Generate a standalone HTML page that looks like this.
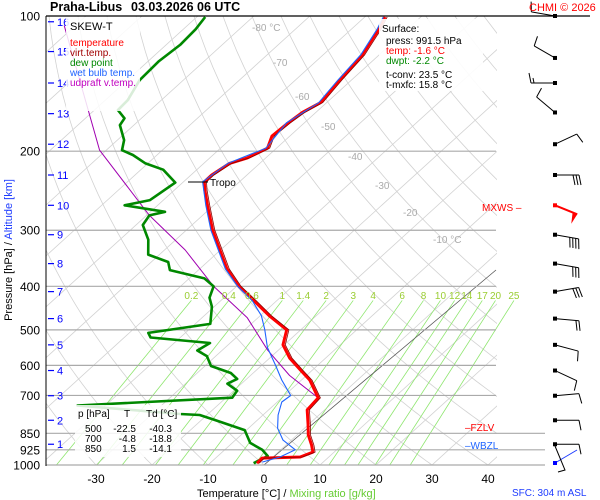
<!DOCTYPE html>
<html><head><meta charset="utf-8">
<style>
html,body{margin:0;padding:0;background:#fff;}
svg{display:block;font-family:"Liberation Sans",sans-serif;}
</style></head>
<body>
<svg id="chart" width="600" height="500" viewBox="0 0 600 500" xmlns="http://www.w3.org/2000/svg">
<defs>
<clipPath id="plotClip"><rect x="46" y="16" width="451" height="449"/></clipPath>
<clipPath id="mixClip"><rect x="46" y="16" width="490" height="449"/></clipPath>
</defs>
<g id="grid"></g>
<g id="series"></g>
<g id="winds"></g>
<g id="labels"></g>
</svg>
<script>
// ---- data ----
const pressureTicks = [100,200,300,400,500,600,700,850,925,1000];
const tempTicks = [-30,-20,-10,0,10,20,30,40];
const altKm = [1,2,3,4,5,6,7,8,9,10,11,12,13,14,15,16];
const altP = [899,795,701,616,540,472,411,356,307,264,226,193,165,141,120,103];
const mixRatios = [0.2,0.4,0.6,1,1.4,2,3,4,6,8,10,12,14,17,20,25];
const tempP = [991,965,960,936,903,857,814,754,709,647,614,578,540,500,465,431,400,366,332,300,264,244,234,226,213,207,197,185,173,164,156,139,122,107,100.5];
const tempT = [-1.6,-1.7,4.9,6.2,4.6,2.0,0,-3.1,-3.5,-8.5,-12.2,-16.4,-20.2,-22.5,-28.4,-34,-39.6,-45.1,-50.1,-55.3,-61.1,-64.6,-66.3,-66.3,-65.4,-63.3,-61.6,-63.2,-62.9,-62.4,-61.1,-62.1,-63,-65.1,-66.4];
const dewP = [991,955,925,893,836,794,774,770,737,708,683,659,643,624,602,572,556,535,520,508,485,444,424,400,384,368,353,340,315,292,278,273,264,257,235,220,213,204,199,189,175,169,162,154,139,126,116,107,100.5];
const dewT = [-2.2,-1.1,-3.3,-6.8,-10.3,-17.6,-21.3,-25,-45,-18.9,-19.4,-22.5,-21.7,-24,-28.9,-31.6,-34.4,-33.6,-45.3,-46.6,-37.3,-40.4,-42.6,-44.1,-47.3,-55.1,-57,-62,-64.9,-68.8,-69.5,-67.4,-75.9,-72.4,-71.3,-76,-80.4,-84.3,-87.2,-88.8,-92.5,-93,-95.8,-96,-97.8,-98.1,-97.5,-97.8,-98.5];
const wetP = [985,960,925,880,828,774,724,700,647,600,547,500,465,431,400,366,332,300,264,234,213,197,173,156,139,122,107,100.5];
const wetT = [-0.9,1.3,2.6,-1.5,-4.8,-7.3,-9.2,-8.9,-13.5,-17.5,-22.5,-26.4,-29.8,-34.3,-39.8,-45.4,-50.4,-55.6,-61.4,-66.6,-65.7,-61.9,-63.2,-61.4,-62.4,-63.3,-65.4,-66.7];
const parcelP = [709,632,555,470,400,332,278,199,105];
const parcelT = [-3.5,-13,-21.9,-31.9,-44.1,-56.3,-69.5,-91.2,-122];
const windP = [100,124,141,164,193,226,264,307,356,411,472,540,616,701,795,899];
const windDir = [280,300,270,310,65,90,112,100,100,80,95,105,115,85,90,90];
const windSpd = [10,10,15,10,10,30,50,40,30,30,20,10,10,10,10,10];
const tableRows = [["500","-22.5","-40.3"],["700","-4.8","-18.8"],["850","1.5","-14.1"]];

// ---- axis functions ----
const NS='http://www.w3.org/2000/svg';
function yP(p){return 16+195*Math.log(p/100);}
function xT(t,p){return 264+5.6*t+1.1*(465-yP(p));}
function mk(tag,attrs,parent){const e=document.createElementNS(NS,tag);for(const k in attrs)e.setAttribute(k,attrs[k]);parent.appendChild(e);return e;}
const grid=document.getElementById('grid'), series=document.getElementById('series'), winds=document.getElementById('winds'), labels=document.getElementById('labels');
function txt(s,x,y,attrs,parent){const e=mk('text',Object.assign({x:x,y:y,'font-size':11},attrs),parent||labels);e.textContent=s;return e;}

// isotherms
const gIso=mk('g',{'clip-path':'url(#plotClip)'},grid);
for(let t=-140;t<=40;t+=10){
  const l=mk('line',{x1:xT(t,1050),y1:yP(1050),x2:xT(t,100),y2:yP(100),stroke:'#d2d2d2','stroke-width':0.8},gIso);
  
  
}
// dry adiabats
for(let th=-40;th<=230;th+=10){
  let d='';
  for(let p=1050;p>=100;p-=10){const t=(th+273.15)*Math.pow(p/1000,0.286)-273.15;d+=(d?'L':'M')+xT(t,p).toFixed(1)+','+yP(p).toFixed(1);}
  const a=mk('path',{d:d,fill:'none',stroke:'#d2d2d2','stroke-width':0.8},gIso);
  
  
}
// mixing ratio lines
const gMix=mk('g',{'clip-path':'url(#mixClip)'},grid);
function tdOf(w,p){const e=w*p/(622+w);const L=Math.log(e/6.112);return 243.5*L/(17.67-L)-2.3;}
mixRatios.forEach(w=>{
  const l=mk('line',{x1:xT(tdOf(w,1050),1050),y1:yP(1050),x2:xT(tdOf(w,430),430),y2:yP(430),stroke:'#8ee66e','stroke-width':0.8},gMix);
  
  
  const t=txt(String(w),xT(tdOf(w,430),430),299,{'text-anchor':'middle',fill:'#9acd32','font-size':10});
  
  
});
// reference diagonal
mk('line',{x1:264,y1:465,x2:496,y2:270,stroke:'#555','stroke-width':0.8,},grid);
// pressure lines
pressureTicks.forEach(p=>{
  const y=yP(p);
  const right=p>=850?545:(p===100?590:496);
  const l=mk('line',{x1:46,y1:y,x2:right,y2:y,stroke:p===100?'#000':'#aaa','stroke-width':p===100?1.2:1.2},grid);
  
  
  const t=txt(String(p),40,y+4.5,{'text-anchor':'end','font-size':12,fill:'#000'});
  
  
});
mk('line',{x1:46,y1:16,x2:46,y2:466,stroke:'#000','stroke-width':1,},grid);
// altitude ticks
altKm.forEach((k,i)=>{
  const y=yP(altP[i]);
  mk('line',{x1:48,y1:y,x2:54,y2:y,stroke:'#00f','stroke-width':1.2},labels);
  const t=txt(String(k),57,y+4,{fill:'#00f','font-size':11});
  
  
});
// x ticks
tempTicks.forEach(t=>{
  const e=txt(String(t),xT(t,1000),483,{'text-anchor':'middle','font-size':12});
  
  
});

// series
function line(P,T,color,w,name){
  let d='';P.forEach((p,i)=>{d+=(i?'L':'M')+xT(T[i],p).toFixed(1)+','+yP(p).toFixed(1);});
  const e=mk('path',{d:d,fill:'none',stroke:color,'stroke-width':w,'stroke-linejoin':'round'},series);
  
  
}
line(parcelP,parcelT,'#a000b0',1,'parcel-line');
line(dewP,dewT,'#008800',2.6,'dewpoint-line');
line(tempP,tempT,'#ff0000',3,'temperature-line');
line(tempP,tempT.map(v=>v+0.4),'#8b0000',0.8,'virtual-temperature-line');
line(wetP,wetT,'#1e64ff',1.1,'wet-bulb-line');

// wind barbs
windP.forEach((p,i)=>{
  const y=yP(p), x=555, dir=windDir[i]*Math.PI/180, spd=windSpd[i];
  const col=i===6?'#f00':'#000';
  const sx=Math.sin(dir), sy=-Math.cos(dir);
  const tx=x+24*sx, ty=y+24*sy;
  const g=mk('g',{},winds);
  
  
  mk('line',{x1:x,y1:y,x2:tx,y2:ty,stroke:col,'stroke-width':i===6?2:1},g);
  mk('rect',{x:x-2,y:y-2,width:4,height:4,fill:col},g);
  const px=-sy, py=sx;
  let rem=spd, pos=0;
  while(rem>=50){const bx=tx-pos*sx,by=ty-pos*sy;mk('polygon',{points:`${bx},${by} ${bx+11*px-2*sx},${by+11*py-2*sy} ${bx-5*sx},${by-5*sy}`,fill:col},g);rem-=50;pos+=6;}
  while(rem>=10){const bx=tx-pos*sx,by=ty-pos*sy;mk('line',{x1:bx,y1:by,x2:bx+10*px+2*sx,y2:by+10*py+2*sy,stroke:col,'stroke-width':1},g);rem-=10;pos+=3;}
  if(rem>=5){const bx=tx-pos*sx,by=ty-pos*sy;mk('line',{x1:bx,y1:by,x2:bx+5*px+1*sx,y2:by+5*py+1*sy,stroke:col,'stroke-width':1},g);}
});
// surface wind
mk('line',{x1:555,y1:463,x2:577,y2:450,stroke:'#1e3cff','stroke-width':1,},winds);
mk('polyline',{points:'555,446 565,470 558,472',fill:'none',stroke:'#000','stroke-width':1},winds);
mk('rect',{x:553,y:461,width:4,height:4,fill:'#00f'},winds);
</script>
<!-- boxes and static labels -->
<g></g>
<script>
(function(){
const NS='http://www.w3.org/2000/svg';
const svg=document.getElementById('chart');
function add(html){svg.insertAdjacentHTML('beforeend',html);}
add(`<rect x="66" y="17" width="74" height="94" fill="#fff" fill-opacity="0.85"/>
<text x="70" y="30" font-size="11" fill="#000">SKEW-T</text>
<text x="70" y="46" font-size="10" fill="#f00">temperature</text>
<text x="70" y="56" font-size="10" fill="#a00000">virt.temp.</text>
<text x="70" y="66" font-size="10" fill="#008800">dew point</text>
<text x="70" y="76" font-size="10" fill="#1e64ff">wet bulb temp.</text>
<text x="70" y="86" font-size="10" fill="#c000c0">udpraft v.temp.</text>
<rect x="379" y="19" width="104" height="72" fill="#fff" fill-opacity="0.9"/>
<text x="382" y="32" font-size="10" fill="#000">Surface:</text>
<text x="386" y="44" font-size="10" fill="#000">press: 991.5 hPa</text>
<text x="386" y="54" font-size="10" fill="#f00">temp: -1.6 °C</text>
<text x="386" y="64" font-size="10" fill="#008800">dwpt: -2.2 °C</text>
<text x="386" y="78" font-size="10" fill="#000">t-conv: 23.5 °C</text>
<text x="386" y="88" font-size="10" fill="#000">t-mxfc: 15.8 °C</text>
<rect x="75" y="405" width="106" height="52" fill="#fff" fill-opacity="0.85"/>
<text x="78" y="417" font-size="10" fill="#000">p [hPa]</text>
<text x="124" y="417" font-size="10" fill="#000">T</text>
<text x="146" y="417" font-size="10" fill="#000">Td [°C]</text>`);
const rows=tableRows;
rows.forEach((r,i)=>{const y=432+i*10;add(`<text font-size="10" fill="#000"><tspan x="85" y="${y}">${r[0]}</tspan><tspan x="136" y="${y}" text-anchor="end">${r[1]}</tspan><tspan x="172" y="${y}" text-anchor="end">${r[2]}</tspan></text>`);});
add(`<text x="50" y="11" font-size="12.5" font-weight="bold" fill="#000">Praha-Libus    <tspan x="131">03.03.2026 06 UTC</tspan></text>
<text x="529" y="11" font-size="11" fill="#f00">CHMI © 2026</text>
<line x1="188" y1="182" x2="208" y2="182" stroke="#000" stroke-width="1"/>
<text x="210" y="186" font-size="10" fill="#000">Tropo</text>
<text font-size="10" fill="#aaa"><tspan x="252" y="31">-80 °C</tspan><tspan x="273" y="66">-70</tspan><tspan x="295" y="100">-60</tspan><tspan x="321" y="130">-50</tspan><tspan x="348" y="160">-40</tspan><tspan x="375" y="189">-30</tspan><tspan x="403" y="216">-20</tspan><tspan x="433" y="243">-10 °C</tspan></text>
<text x="482" y="211" font-size="10" fill="#f00">MXWS –</text>
<text x="465" y="431" font-size="10" fill="#f00">–FZLV</text>
<text x="465" y="449" font-size="10" fill="#1e64ff">–WBZL</text>
<text x="512" y="496" font-size="10" fill="#1e3cff">SFC: 304 m ASL</text>
<text x="197" y="497" font-size="11" fill="#000">Temperature [°C]  /  <tspan fill="#66cc33">Mixing ratio [g/kg]</tspan></text>
<text transform="translate(12,250) rotate(-90)" text-anchor="middle" font-size="11" fill="#000">Pressure [hPa]  /  <tspan fill="#1e3cff">Altitude [km]</tspan></text>`);
})();
</script>
</body></html>
